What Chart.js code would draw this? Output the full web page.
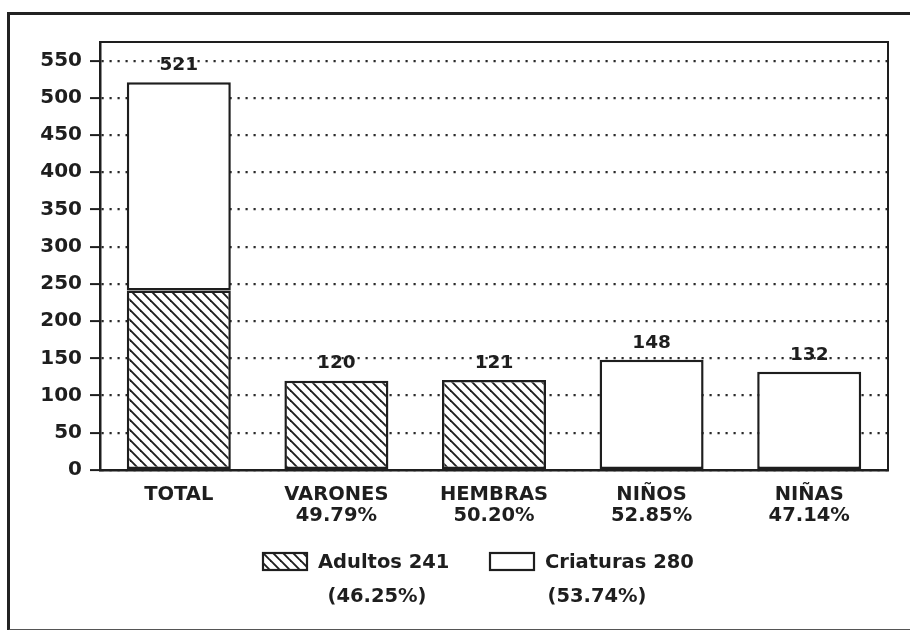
<!DOCTYPE html>
<html>
<head>
<meta charset="utf-8">
<script src="https://cdn.jsdelivr.net/npm/chart.js@4/dist/chart.umd.min.js"></script>
<style>
  html, body { margin: 0; padding: 0; background: #fff; }
  #wrap { position: relative; width: 910px; height: 630px; overflow: hidden; }
  #frame { position: absolute; left: 7px; top: 12px; width: 920px; height: 614px;
           border-left: 3px solid #222; border-top: 3px solid #222; border-bottom: 2px solid #555;
           pointer-events: none; }
  canvas { position: absolute; left: 0; top: 0; }
</style>
</head>
<body>
<div id="wrap">
  <canvas id="c" width="910" height="630"></canvas>
  <div id="frame"></div>
</div>
<script>
// ---- data ----
const categories = ["TOTAL", "VARONES", "HEMBRAS", "NIÑOS", "NIÑAS"];
const sharePct   = ["", "49.79%", "50.20%", "52.85%", "47.14%"];
const adultos    = [241, 120, 121, null, null];
const criaturas  = [280, null, null, 148, 132];
const legendNames = ["Adultos 241", "Criaturas 280"];
const legendPcts  = ["(46.25%)", "(53.74%)"];
const yTicks = [0, 50, 100, 150, 200, 250, 300, 350, 400, 450, 500, 550];

// ---- styling ----
const INK = "#1e1e1e";
const FONT = "DejaVu Sans";

function hatchPattern(ctx) {
  const p = 10;
  const c = document.createElement("canvas");
  c.width = p; c.height = p;
  const g = c.getContext("2d");
  g.fillStyle = "#fff";
  g.fillRect(0, 0, p, p);
  g.strokeStyle = INK;
  g.lineWidth = 1.9;
  [-1, 0, 1].forEach(k => {
    g.beginPath();
    g.moveTo(-2, -2 + k * p);
    g.lineTo(p + 2, p + 2 + k * p);
    g.stroke();
  });
  return ctx.createPattern(c, "repeat");
}

const canvas = document.getElementById("c");
const ctx = canvas.getContext("2d");
const HATCH = hatchPattern(ctx);

const labels = categories.map((c, i) => sharePct[i] ? [c, sharePct[i]] : [c]);
const totals = categories.map((c, i) => (adultos[i] || 0) + (criaturas[i] || 0));

const boxPlugin = {
  id: "box",
  afterDatasetsDraw(chart) {
    const { ctx, chartArea: a } = chart;
    ctx.save();
    ctx.strokeStyle = INK;
    ctx.lineWidth = 2;
    ctx.beginPath();
    ctx.moveTo(a.left, a.top);
    ctx.lineTo(a.right, a.top);
    ctx.lineTo(a.right, a.bottom);
    ctx.stroke();

    // value labels above the bars
    ctx.fillStyle = INK;
    ctx.font = "bold 18.5px '" + FONT + "'";
    ctx.textAlign = "center";
    ctx.textBaseline = "middle";
    categories.forEach((c, i) => {
      let topY = Infinity, x = null;
      chart.data.datasets.forEach((ds, di) => {
        const el = chart.getDatasetMeta(di).data[i];
        if (ds.data[i] != null && el) { topY = Math.min(topY, el.y); x = el.x; }
      });
      if (x !== null) ctx.fillText(String(totals[i]), x, topY - 17);
    });

    // legend
    const fills = [HATCH, "#fff"];
    const boxes = [[263, 553], [490, 553]];
    ctx.font = "bold 19.5px '" + FONT + "'";
    legendNames.forEach((name, i) => {
      const [bx, by] = boxes[i];
      ctx.fillStyle = fills[i];
      ctx.fillRect(bx, by, 44, 17);
      ctx.strokeStyle = INK;
      ctx.lineWidth = 2.2;
      ctx.strokeRect(bx, by, 44, 17);
      ctx.fillStyle = INK;
      ctx.textAlign = "left";
      ctx.fillText(name, bx + 55, by + 10);
      ctx.textAlign = "center";
      ctx.fillText(legendPcts[i], i === 0 ? 377 : 597, 597);
    });
    ctx.restore();
  }
};

new Chart(ctx, {
  type: "bar",
  data: {
    labels: labels,
    datasets: [
      { label: legendNames[0], data: adultos, backgroundColor: HATCH,
        borderColor: INK, borderWidth: 2.5, borderSkipped: false },
      { label: legendNames[1], data: criaturas, backgroundColor: "#fff",
        borderColor: INK, borderWidth: 2.5, borderSkipped: false }
    ]
  },
  options: {
    responsive: false,
    animation: false,
    devicePixelRatio: 1,
    layout: { padding: { top: 42, right: 22, left: 0, bottom: 0 } },
    datasets: { bar: { categoryPercentage: 1, barPercentage: 0.66 } },
    plugins: { legend: { display: false }, tooltip: { enabled: false } },
    scales: {
      x: {
        stacked: true,
        grid: { display: true, drawOnChartArea: false, drawTicks: false },
        border: { display: true, width: 2.5, color: INK },
        ticks: { color: INK, font: { family: FONT, size: 19.5, weight: "bold", lineHeight: 1.08 },
                 padding: 14, maxRotation: 0, autoSkip: false },
        afterFit(s) { s.height = 160; }
      },
      y: {
        stacked: true,
        min: 0, max: 575,
        afterBuildTicks(s) { s.ticks = yTicks.map(v => ({ value: v })); },
        ticks: { color: INK, font: { family: FONT, size: 20, weight: "bold" }, padding: 8 },
        grid: { color: "#2a2a2a", lineWidth: 2.2, tickLength: 10, tickColor: INK,
                tickWidth: 2, tickBorderDash: [], drawTicks: true },
        border: { display: true, width: 2.5, color: INK, dash: [2.2, 5.8] },
        afterFit(s) { s.width = 100; }
      }
    }
  },
  plugins: [boxPlugin]
});
</script>
</body>
</html>
